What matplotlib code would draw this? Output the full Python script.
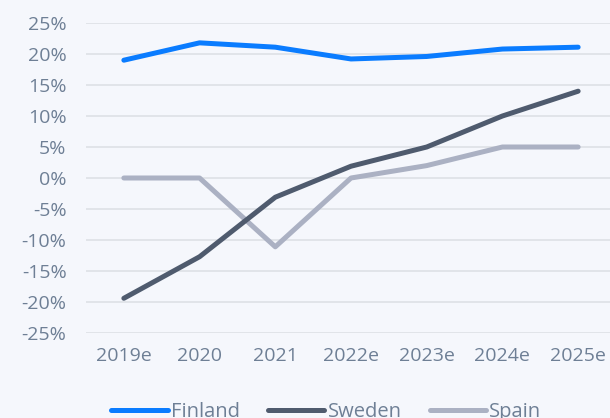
import matplotlib
matplotlib.use("Agg")
import matplotlib.pyplot as plt

years = ["2019e", "2020", "2021", "2022e", "2023e", "2024e", "2025e"]
finland = [19.0, 21.8, 21.1, 19.2, 19.6, 20.8, 21.1]
sweden = [-19.4, -12.7, -3.1, 1.9, 5.0, 10.0, 14.0]
spain = [0.0, 0.0, -11.1, 0.0, 2.0, 5.0, 5.0]
yticks = [-25, -20, -15, -10, -5, 0, 5, 10, 15, 20, 25]

bg = "#f5f7fc"
txt = "#6e7f95"

plt.rcParams["font.family"] = ["Open Sans", "DejaVu Sans"]

fig = plt.figure(figsize=(6.1, 4.18), dpi=100, facecolor=bg)
W, H = 610, 418
ax = fig.add_axes([86 / W, (H - 333) / H, (616 - 86) / W, (333 - 23) / H])
ax.set_facecolor(bg)

x = list(range(len(years)))
ax.plot(x, finland, color="#0a7cff", lw=3.6, solid_capstyle="round", label="Finland", zorder=3)
ax.plot(x, sweden, color="#4f5b6e", lw=3.6, solid_capstyle="round", label="Sweden", zorder=3)
ax.plot(x, spain, color="#abb1c3", lw=3.6, solid_capstyle="round", label="Spain", zorder=2)

ax.set_xlim(-0.5, len(years) - 0.5)
ax.set_ylim(-25, 25)
ax.set_yticks(yticks)
ax.set_yticklabels([f"{v}%" for v in yticks])
ax.set_xticks(x)
ax.set_xticklabels(years)
ax.grid(axis="y", color="#dfe3e8", lw=1.3, zorder=0)
ax.tick_params(length=0, labelsize=14, labelcolor=txt)
ax.tick_params(axis="x", pad=10)
ax.tick_params(axis="y", pad=14)
for s in ax.spines.values():
    s.set_visible(False)

fig.legend(loc="center", bbox_to_anchor=(0.535, 6 / H), ncol=3, frameon=False,
           fontsize=14.5, labelcolor=txt, handlelength=2.8, handletextpad=0.15,
           columnspacing=1.4)

fig.savefig("out.png", dpi=100, facecolor=bg)
